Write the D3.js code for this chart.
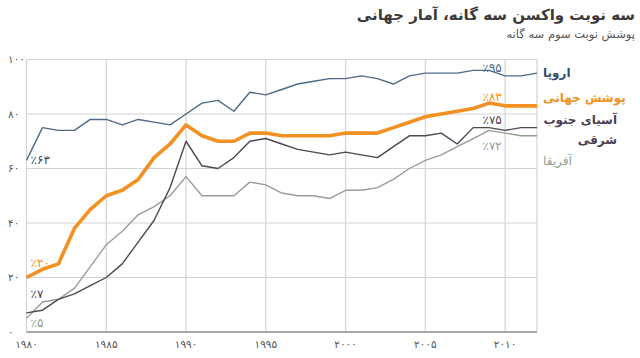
<!DOCTYPE html>
<html><head><meta charset="utf-8">
<script src="https://cdn.jsdelivr.net/npm/d3@7"></script>
<style>
html,body{margin:0;padding:0;background:#fff;}
svg{display:block;font-family:"DejaVu Sans",sans-serif;}
</style></head>
<body>
<svg id="chart" width="640" height="358"></svg>
<script>
const years = d3.range(1980, 2013);
const europe = [63,75,74,74,78,78,76,78,77,76,80,84,85,81,88,87,89,91,92,93,93,94,93,91,94,95,95,95,96,96,94,94,95];
const globalCov = [20,23,25,38,45,50,52,56,64,69,76,72,70,70,73,73,72,72,72,72,73,73,73,75,77,79,80,81,82,84,83,83,83];
const seAsia = [7,8,12,14,17,20,25,33,41,53,70,61,60,64,70,71,69,67,66,65,66,65,64,68,72,72,73,69,75,75,74,75,75];
const africa = [5,11,12,16,24,32,37,43,46,50,57,50,50,50,55,54,51,50,50,49,52,52,53,56,60,63,65,68,71,74,73,72,72];
const yTicks = [0,20,40,60,80,100];
const yTickLabels = ["۰","۲۰","۴۰","۶۰","۸۰","۱۰۰"];
const xTicks = [1980,1985,1990,1995,2000,2005,2010];
const xTickLabels = ["۱۹۸۰","۱۹۸۵","۱۹۹۰","۱۹۹۵","۲۰۰۰","۲۰۰۵","۲۰۱۰"];
const seriesNames = ["اروپا","پوشش جهانی","آسیای جنوب|شرقی","آفریقا"];
const startLabels = ["٪۶۳","٪۲۰","٪۷","٪۵"];
const endLabels = ["٪۹۵","٪۸۳","٪۷۵","٪۷۲"];
const title = "سه نوبت واکسن سه گانه، آمار جهانی";
const subtitle = "پوشش نوبت سوم سه گانه";

const colors = ["#4d6a88","#f39022","#4f4553","#969e95"];
const legendColors = ["#2f4b6e","#f39022","#4a3f50","#8fa08e"];
const widths = [1.4,3.6,1.4,1.4];
const series = [europe, globalCov, seAsia, africa];

const svg = d3.select("#chart");
const x = d3.scaleLinear().domain([1980,2012]).range([26.5,537]);
const y = d3.scaleLinear().domain([0,100]).range([332,59.5]);

// title (rtl: anchor start = right edge)
svg.append("text").attr("x",635).attr("y",20).attr("text-anchor","start")
  .attr("direction","rtl").attr("font-size",15).attr("font-weight","bold").attr("fill","#3a3a3a").text(title);
svg.append("text").attr("x",635).attr("y",38).attr("text-anchor","start")
  .attr("direction","rtl").attr("font-size",11.5).attr("fill","#555").text(subtitle);

// grid
const g = svg.append("g");
g.selectAll(".hg").data(yTicks.filter(d=>d>0)).join("line")
  .attr("x1",x(1980)).attr("x2",x(2012)).attr("y1",d=>y(d)).attr("y2",d=>y(d))
  .attr("stroke","#d3d3d3").attr("stroke-width",1.2);
g.selectAll(".vg").data(xTicks.concat([2012])).join("line")
  .attr("x1",d=>x(d)).attr("x2",d=>x(d)).attr("y1",y(100)).attr("y2",y(0))
  .attr("stroke","#d3d3d3").attr("stroke-width",1.2);
g.append("line").attr("x1",x(1980)).attr("x2",x(2012)).attr("y1",y(0)).attr("y2",y(0))
  .attr("stroke","#a8a8a8").attr("stroke-width",2);

// axis labels
svg.selectAll(".yl").data(yTicks).join("text")
  .attr("x",8).attr("y",d=>y(d)).attr("dy","0.35em")
  .attr("font-size",10.5).attr("fill","#555").text((d,i)=>yTickLabels[i]);
svg.selectAll(".xl").data(xTicks).join("text")
  .attr("x",d=>x(d)).attr("y",348).attr("text-anchor","middle")
  .attr("font-size",10.5).attr("fill","#555").text((d,i)=>xTickLabels[i]);

// lines
const line = d3.line().x((d,i)=>x(years[i])).y(d=>y(d));
const order = [3,2,0,1];
order.forEach(k=>{
  svg.append("path").datum(series[k]).attr("d",line)
    .attr("fill","none").attr("stroke",colors[k]).attr("stroke-width",widths[k])
    .attr("stroke-linejoin","round");
});

// start labels
const startDy = [4, -11, -15, 9];
series.forEach((s,k)=>{
  svg.append("text").attr("x",x(1980)+4).attr("y",y(s[0])+startDy[k])
    .attr("font-size",12).attr("fill",legendColors[k]).text(startLabels[k]);
});
// end labels
const endDy = [-1, -5, -4, 14];
series.forEach((s,k)=>{
  svg.append("text").attr("x",x(2009)+3).attr("y",y(s[s.length-1])+endDy[k]).attr("text-anchor","middle")
    .attr("font-size",12).attr("fill",colors[k]).text(endLabels[k]);
});

// legend names
const legY = [77,102,124,165];
seriesNames.forEach((n,k)=>{
  const parts = n.split("|");
  if(parts.length===1){
    svg.append("text").attr("x",543).attr("y",legY[k]).attr("text-anchor","end").attr("direction","rtl")
      .attr("font-size",12).attr("font-weight", k<3?"bold":"normal").attr("fill",legendColors[k]).text(parts[0]);
  } else {
    parts.forEach((p,j)=>{
      svg.append("text").attr("x",617).attr("y",legY[k]+j*20).attr("text-anchor","start").attr("direction","rtl")
        .attr("font-size",12).attr("font-weight","bold").attr("fill",legendColors[k]).text(p);
    });
  }
});
</script>
</body></html>
